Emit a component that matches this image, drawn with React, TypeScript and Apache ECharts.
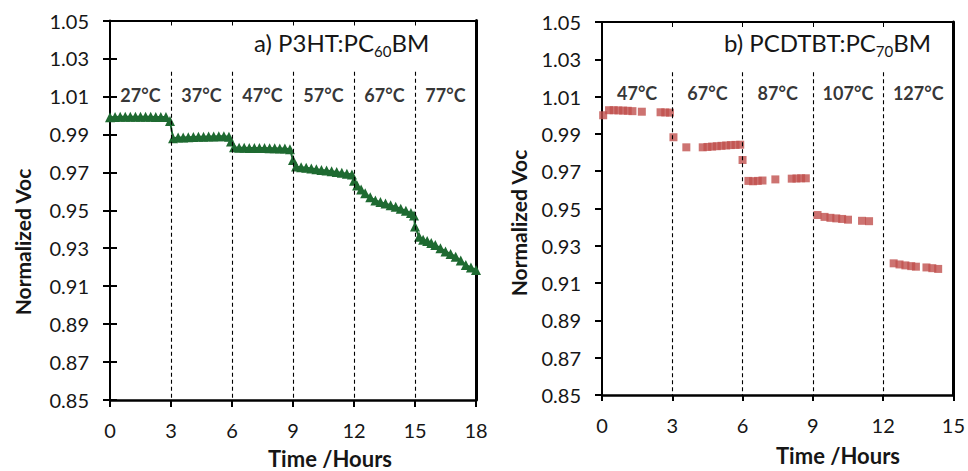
import React, { useEffect, useRef } from "react";
import * as echarts from "echarts";

const FONT = 'Lato, "Open Sans", sans-serif';
const INK = "#161616";
const GREEN = "#1e6a31";
const RED = "#c0504d";

// Panel a) P3HT:PC60BM
const timeA = [
  0, 0.25, 0.5, 0.75, 1, 1.25, 1.5, 1.75, 2, 2.25, 2.5, 2.75, 2.95,
  3.1, 3.35, 3.6, 3.85, 4.1, 4.35, 4.6, 4.85, 5.1, 5.35, 5.6, 5.85, 5.95,
  6.1, 6.35, 6.6, 6.85, 7.1, 7.35, 7.6, 7.85, 8.1, 8.35, 8.6, 8.85,
  9.0, 9.15, 9.4, 9.65, 9.9, 10.15, 10.4, 10.65, 10.9, 11.15, 11.4, 11.65, 11.9,
  12.0, 12.15, 12.35, 12.55, 12.8, 13.05, 13.3, 13.55, 13.8, 14.05, 14.3, 14.55, 14.8, 14.95,
  15.0, 15.2, 15.4, 15.6, 15.8, 16.0, 16.25, 16.5, 16.75, 17.0, 17.25, 17.5, 17.75, 18.0,
];
const vocA = [
  0.999, 0.9992, 0.9993, 0.9993, 0.9993, 0.9993, 0.9993, 0.9993, 0.9993, 0.9992, 0.9992, 0.9992, 0.997,
  0.988, 0.9883, 0.9884, 0.9885, 0.9886, 0.9887, 0.9888, 0.9889, 0.9889, 0.989, 0.989, 0.9888, 0.9862,
  0.9832, 0.983, 0.9829, 0.9828, 0.9828, 0.9828, 0.9828, 0.9827, 0.9827, 0.9826, 0.9825, 0.9822,
  0.9765, 0.973, 0.9727, 0.9724, 0.972, 0.9716, 0.9712, 0.9709, 0.9705, 0.9701, 0.9697, 0.9693, 0.9689,
  0.9655, 0.963, 0.961, 0.959, 0.9568, 0.9552, 0.9543, 0.9535, 0.9527, 0.9518, 0.9508, 0.9497, 0.9485, 0.9472,
  0.9415, 0.936, 0.9345, 0.9338, 0.9328, 0.9317, 0.93, 0.9283, 0.927, 0.9255, 0.9235, 0.9212, 0.9198, 0.9185,
];
const tempA = ["27°C", "37°C", "47°C", "57°C", "67°C", "77°C"];
const tempMidA = [1.5, 4.5, 7.5, 10.5, 13.5, 16.5];
const dividersA = [3, 6, 9, 12, 15];

// Panel b) PCDTBT:PC70BM
const timeB = [
  0.05, 0.3, 0.5, 0.7, 0.9, 1.1, 1.3, 1.7, 2.5, 2.7, 2.9,
  3.05, 3.6, 4.3, 4.5, 4.7, 4.9, 5.1, 5.3, 5.5, 5.7, 5.9,
  6.0, 6.25, 6.45, 6.65, 6.85, 7.4, 8.1, 8.3, 8.5, 8.7,
  9.2, 9.5, 9.75, 10.0, 10.25, 10.5, 11.1, 11.4,
  12.45, 12.7, 12.95, 13.2, 13.4, 13.85, 14.1, 14.35,
];
const vocB = [
  1.0, 1.0027, 1.0027, 1.0026, 1.0025, 1.0024, 1.0022, 1.0019, 1.0016, 1.0015, 1.0014,
  0.9882, 0.9828, 0.9828, 0.983, 0.9832, 0.9834, 0.9836, 0.9838, 0.984, 0.9841, 0.9842,
  0.976, 0.9648, 0.9646, 0.9648, 0.965, 0.9656, 0.966, 0.9661, 0.9662, 0.9662,
  0.9465, 0.9455, 0.945, 0.9447, 0.9444, 0.944, 0.9434, 0.9432,
  0.9206, 0.92, 0.9195, 0.9191, 0.9188, 0.9184, 0.918, 0.9176,
];
const tempB = ["47°C", "67°C", "87°C", "107°C", "127°C"];
const tempMidB = [1.5, 4.5, 7.5, 10.5, 13.5];
const dividersB = [3, 6, 9, 12];

const Y_MIN = 0.85;
const Y_MAX = 1.05;
const Y_STEP = 0.02;
const X_STEP = 3;
const X_MAX_A = 18;
const X_MAX_B = 15;

export default function App() {
  const ref = useRef<HTMLDivElement>(null);

  useEffect(() => {
    document.body.style.margin = "0";
    const chart = echarts.init(ref.current!, null, { renderer: "svg" });

    const labelStyle = { color: INK, fontFamily: FONT, fontSize: 20 };

    const bottomX = (gridIndex: number, max: number, tickLen: number) => ({
      type: "value",
      gridIndex,
      position: "bottom",
      min: 0,
      max,
      interval: X_STEP,
      axisLine: { show: true, onZero: false, lineStyle: { color: "#000", width: 2.5 } },
      axisTick: { show: true, inside: false, length: tickLen, lineStyle: { color: "#000", width: 2 } },
      axisLabel: { ...labelStyle, margin: 20 },
      splitLine: { show: false },
    });
    const topX = (gridIndex: number, max: number) => ({
      type: "value",
      gridIndex,
      position: "top",
      min: 0,
      max,
      interval: X_STEP,
      axisLine: { show: true, onZero: false, lineStyle: { color: "#000", width: 2 } },
      axisTick: { show: true, inside: true, length: 5, lineStyle: { color: "#000", width: 1 } },
      axisLabel: { show: false },
      splitLine: { show: false },
    });
    const leftY = (gridIndex: number) => ({
      type: "value",
      gridIndex,
      position: "left",
      min: Y_MIN,
      max: Y_MAX,
      interval: Y_STEP,
      axisLine: { show: true, onZero: false, lineStyle: { color: "#000", width: 2 } },
      axisTick: { show: true, inside: false, length: 7, lineStyle: { color: "#000", width: 2 } },
      axisLabel: { ...labelStyle, margin: 21, formatter: (v: number) => v.toFixed(2) },
      splitLine: { show: false },
    });
    const leftYInner = (gridIndex: number) => ({
      type: "value",
      gridIndex,
      position: "left",
      min: Y_MIN,
      max: Y_MAX,
      interval: Y_STEP,
      axisLine: { show: false },
      axisTick: { show: true, inside: true, length: 7, lineStyle: { color: "#000", width: 2 } },
      axisLabel: { show: false },
      splitLine: { show: false },
    });
    const rightY = (gridIndex: number) => ({
      type: "value",
      gridIndex,
      position: "right",
      min: Y_MIN,
      max: Y_MAX,
      interval: Y_STEP,
      axisLine: { show: true, onZero: false, lineStyle: { color: "#000", width: 3 } },
      axisTick: { show: false },
      axisLabel: { show: false },
      splitLine: { show: false },
    });

    const dividerLines = (dividers: number[]) => ({
      symbol: "none",
      silent: true,
      label: { show: false },
      lineStyle: { color: "#000", type: [4, 3], width: 1.1 },
      data: dividers.map((d) => [{ coord: [d, 1.023] }, { coord: [d, Y_MIN] }]),
    });

    const tempLabels = (mids: number[], temps: string[], yv: number) =>
      mids.map((x, i) => ({ value: [x, yv], name: temps[i] }));

    const tempLabelStyle = {
      show: true,
      position: "inside",
      formatter: "{b}",
      color: "#000",
      fontFamily: FONT,
      fontSize: 18,
      fontWeight: "bold",
    };

    const titleRich = {
      n: { fontSize: 24, fontFamily: FONT, lineHeight: 32, verticalAlign: "middle", fill: INK },
      s: { fontSize: 15, fontFamily: FONT, lineHeight: 32, verticalAlign: "bottom", fill: INK },
    };

    const option: any = {
      animation: false,
      backgroundColor: "#fff",
      grid: [
        { left: 110, top: 20.5, width: 366, height: 379.5, containLabel: false },
        { left: 602, top: 22, width: 355, height: 373, containLabel: false },
      ],
      xAxis: [bottomX(0, X_MAX_A, 7), topX(0, X_MAX_A), bottomX(1, X_MAX_B, 6), topX(1, X_MAX_B)],
      yAxis: [leftY(0), leftYInner(0), rightY(0), leftY(1), rightY(1)],
      series: [
        {
          type: "line",
          xAxisIndex: 0,
          yAxisIndex: 0,
          data: timeA.map((t, i) => [t, vocA[i]]),
          symbol: "triangle",
          symbolSize: 10,
          showAllSymbol: true,
          lineStyle: { color: GREEN, width: 2 },
          itemStyle: { color: GREEN },
          markLine: dividerLines(dividersA),
          z: 3,
        },
        {
          type: "scatter",
          xAxisIndex: 0,
          yAxisIndex: 0,
          symbolSize: 0,
          data: tempLabels(tempMidA, tempA, 1.011),
          label: tempLabelStyle,
          silent: true,
        },
        {
          type: "scatter",
          xAxisIndex: 2,
          yAxisIndex: 3,
          data: timeB.map((t, i) => [t, vocB[i]]),
          symbol: "rect",
          symbolSize: 8,
          itemStyle: { color: RED },
          markLine: dividerLines(dividersB),
          z: 3,
        },
        {
          type: "scatter",
          xAxisIndex: 2,
          yAxisIndex: 3,
          symbolSize: 0,
          data: tempLabels(tempMidB, tempB, 1.012),
          label: tempLabelStyle,
          silent: true,
        },
      ],
      graphic: [
        {
          type: "text",
          left: 254,
          top: 30,
          style: { text: "{n|a) P3HT:PC}{s|60}{n|BM}", fill: INK, rich: titleRich },
        },
        {
          type: "text",
          left: 724,
          top: 30,
          style: { text: "{n|b) PCDTBT:PC}{s|70}{n|BM}", fill: INK, rich: titleRich },
        },
        {
          type: "text",
          x: 22,
          y: 242,
          rotation: Math.PI / 2,
          style: {
            text: "Normalized Voc",
            fill: INK,
            font: `bold 21px ${FONT}`,
            align: "center",
            verticalAlign: "middle",
          },
        },
        {
          type: "text",
          x: 518,
          y: 223,
          rotation: Math.PI / 2,
          style: {
            text: "Normalized Voc",
            fill: INK,
            font: `bold 21px ${FONT}`,
            align: "center",
            verticalAlign: "middle",
          },
        },
        {
          type: "text",
          x: 330,
          y: 458,
          style: {
            text: "Time /Hours",
            fill: INK,
            font: `bold 22px ${FONT}`,
            align: "center",
            verticalAlign: "middle",
          },
        },
        {
          type: "text",
          x: 838,
          y: 455,
          style: {
            text: "Time /Hours",
            fill: INK,
            font: `bold 22px ${FONT}`,
            align: "center",
            verticalAlign: "middle",
          },
        },
      ],
    };

    chart.setOption(option);
    return () => chart.dispose();
  }, []);

  return <div ref={ref} style={{ width: 968, height: 471 }} />;
}
